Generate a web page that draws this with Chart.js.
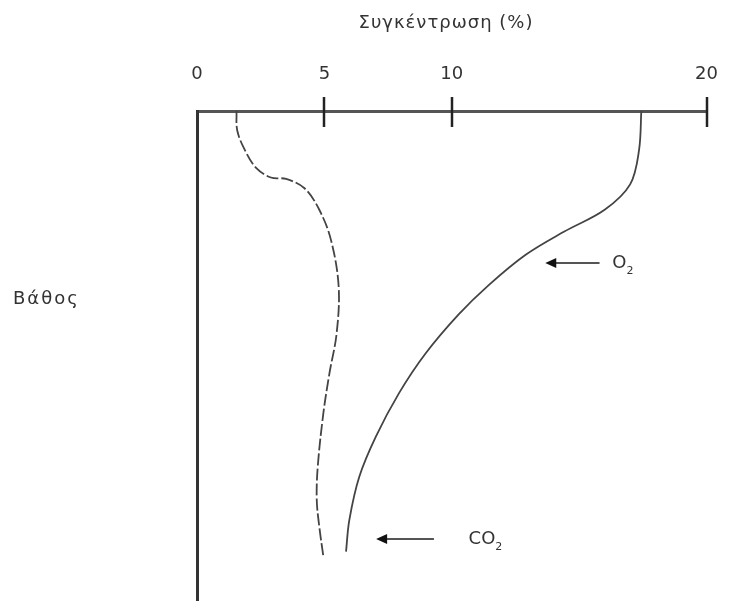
<!DOCTYPE html>
<html>
<head>
<meta charset="utf-8">
<script src="https://cdn.jsdelivr.net/npm/chart.js@4/dist/chart.umd.min.js"></script>
<style>
  body { margin: 0; background: #fff; }
  #wrap { width: 736px; height: 602px; }
</style>
</head>
<body>
<div id="wrap"><canvas id="myChart" width="736" height="602"></canvas></div>
<script>
// x axis ticks (concentration %)
const xTicks = [0, 5, 10, 20];

// CO2 profile: concentration (%) and depth (arbitrary units, 0 = surface)
const co2Conc  = [1.55, 1.58, 1.88, 2.33, 2.9, 3.5, 4.22, 4.8, 5.26, 5.56, 5.48, 5.2, 4.96, 4.74, 4.7, 4.8, 4.96];
const co2Depth = [0, 4.0, 8.0, 11.7, 13.6, 13.9, 15.8, 20.2, 26.4, 35.9, 45.5, 53.6, 61.8, 72.7, 79.5, 85.0, 91.1];

// O2 profile
const o2Conc  = [17.44, 17.35, 17.0, 16.0, 14.4, 12.9, 11.45, 10.27, 8.97, 7.93, 7.02, 6.37, 5.98, 5.85];
const o2Depth = [0, 8.0, 15.0, 20.2, 24.7, 29.4, 35.6, 41.6, 49.6, 57.7, 66.6, 74.8, 83.6, 90.1];

const titleText = 'Συγκέντρωση (%)';
const depthText = 'Βάθος';

// arrow labels, in data units
const arrows = [
  { main: 'O', sub: '2', tip: 13.67, tail: 15.8, depth: 31.1, textAt: 16.3 },
  { main: 'CO', sub: '2', tip: 7.03, tail: 9.3, depth: 87.5, textAt: 10.66 }
];

const toPoints = (xs, ys) => xs.map((x, i) => ({ x: x, y: ys[i] }));

const FONT = 'DejaVu Sans';

// extra drawing: tick marks, title, depth label, arrows
const extras = {
  id: 'extras',
  afterDraw(chart) {
    const ctx = chart.ctx;
    const xs = chart.scales.x, ys = chart.scales.y;
    const top = chart.chartArea.top;
    ctx.save();
    // tick marks crossing the axis
    ctx.strokeStyle = '#222';
    ctx.lineWidth = 2.5;
    xTicks.forEach(v => {
      if (v === 0) return;
      const px = Math.round(xs.getPixelForValue(v));
      ctx.beginPath();
      ctx.moveTo(px, top - 14);
      ctx.lineTo(px, top + 16);
      ctx.stroke();
    });
    // title
    ctx.fillStyle = '#333';
    ctx.font = '18px "' + FONT + '"';
    ctx.letterSpacing = '1px';
    ctx.textAlign = 'center';
    ctx.textBaseline = 'middle';
    ctx.fillText(titleText, 446, 23);
    // depth label
    ctx.textAlign = 'left';
    ctx.letterSpacing = '2px';
    ctx.font = '18px "' + FONT + '"';
    ctx.fillText(depthText, 13, 299);
    ctx.letterSpacing = '0px';
    // arrows
    arrows.forEach(a => {
      const y = ys.getPixelForValue(a.depth);
      const x1 = xs.getPixelForValue(a.tip);
      const x2 = xs.getPixelForValue(a.tail);
      ctx.strokeStyle = '#555';
      ctx.lineWidth = 2;
      ctx.beginPath();
      ctx.moveTo(x1 + 6, y);
      ctx.lineTo(x2, y);
      ctx.stroke();
      ctx.fillStyle = '#111';
      ctx.beginPath();
      ctx.moveTo(x1, y);
      ctx.lineTo(x1 + 11, y - 5);
      ctx.lineTo(x1 + 11, y + 5);
      ctx.closePath();
      ctx.fill();
      const tx = xs.getPixelForValue(a.textAt);
      ctx.fillStyle = '#333';
      ctx.font = '18px "' + FONT + '"';
      ctx.textAlign = 'left';
      ctx.textBaseline = 'middle';
      ctx.fillText(a.main, tx, y);
      const w = ctx.measureText(a.main).width;
      ctx.font = '11px "' + FONT + '"';
      ctx.fillText(a.sub, tx + w, y + 8);
    });
    ctx.restore();
  }
};

const ctx = document.getElementById('myChart').getContext('2d');
const myChart = new Chart(ctx, {
  type: 'scatter',
  data: {
    datasets: [
      {
        label: 'CO2',
        data: toPoints(co2Conc, co2Depth),
        showLine: true,
        borderColor: '#444',
        borderWidth: 1.8,
        borderDash: [12, 3],
        pointRadius: 0,
        tension: 0.35
      },
      {
        label: 'O2',
        data: toPoints(o2Conc, o2Depth),
        showLine: true,
        borderColor: '#444',
        borderWidth: 1.8,
        pointRadius: 0,
        tension: 0.35
      }
    ]
  },
  options: {
    responsive: false,
    animation: false,
    layout: { padding: { left: 197, right: 27, top: 0, bottom: 2 } },
    plugins: {
      legend: { display: false },
      tooltip: { enabled: false }
    },
    scales: {
      x: {
        type: 'linear',
        position: 'top',
        min: 0,
        max: 20,
        afterBuildTicks: s => { s.ticks = xTicks.map(v => ({ value: v })); },
        afterFit: s => { s.height = 111; },
        ticks: {
          font: { family: FONT, size: 18 },
          color: '#333',
          padding: 18,
          maxRotation: 0
        },
        grid: { display: false },
        border: { display: true, color: '#555', width: 3 }
      },
      y: {
        type: 'linear',
        reverse: true,
        min: 0,
        max: 100,
        afterFit: s => { s.width = 0; },
        ticks: { display: false },
        grid: { display: false },
        border: { display: true, color: '#333', width: 3 }
      }
    }
  },
  plugins: [extras]
});
</script>
</body>
</html>
